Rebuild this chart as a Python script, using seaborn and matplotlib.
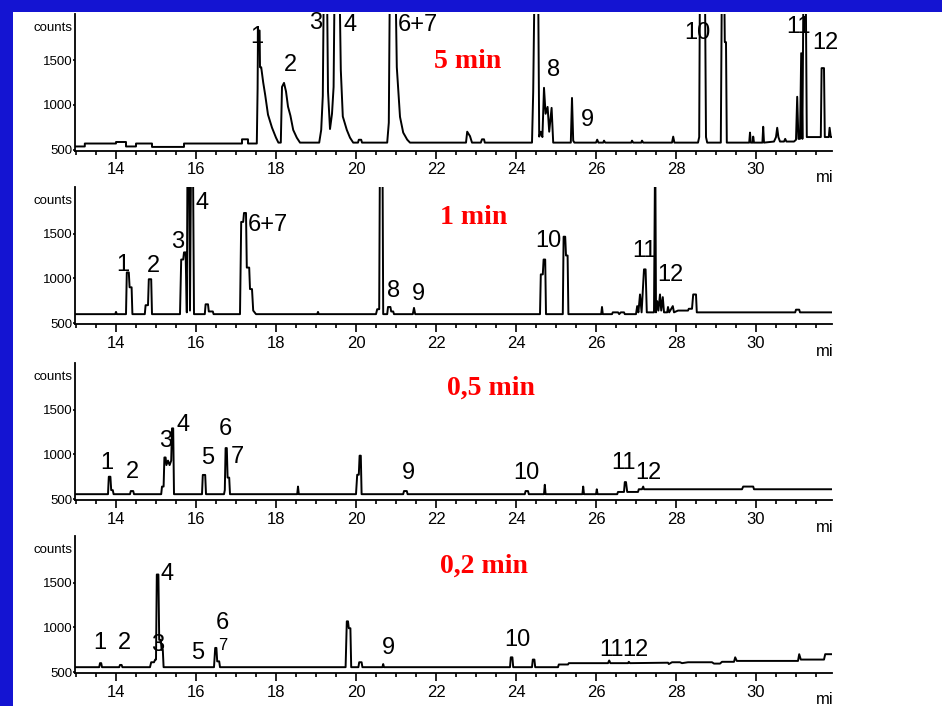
import matplotlib
matplotlib.use("Agg")
import matplotlib.pyplot as plt
from matplotlib.patches import Rectangle
from matplotlib.ticker import MultipleLocator
import pandas as pd
import seaborn as sns

# ---------------- data (retention time [min], counts) ----------------
trace_5min = [
    (12.98, 535), (13.22, 535), (13.22, 568), (14.0, 568), (14.0, 585), (14.25, 585), (14.25, 535),
    (14.5, 535), (14.5, 568), (14.9, 568), (14.9, 530), (15.7, 530), (15.7, 568), (17.15, 568),
    (17.15, 615), (17.3, 615), (17.3, 568), (17.52, 568),
    (17.54, 1180), (17.55, 1830), (17.59, 1830), (17.6, 1420), (17.63, 1420), (17.68, 1250),
    (17.73, 1110), (17.8, 890), (17.9, 745), (18.0, 633), (18.06, 578),
    (18.12, 578), (18.15, 1200), (18.2, 1245), (18.25, 1150), (18.3, 980), (18.36, 880),
    (18.43, 720), (18.52, 633), (18.6, 578), (19.08, 578),
    (19.13, 720), (19.17, 1100), (19.2, 2600), (19.27, 2600), (19.3, 1150), (19.35, 730),
    (19.4, 900), (19.44, 1200), (19.47, 2600), (19.58, 2600), (19.62, 1390), (19.67, 870),
    (19.77, 720), (19.85, 633), (19.93, 578),
    (20.05, 578), (20.07, 610), (20.13, 610), (20.15, 578),
    (20.78, 578), (20.82, 800), (20.85, 2600), (20.98, 2600), (21.02, 1420), (21.1, 866),
    (21.18, 690), (21.28, 611), (21.35, 578),
    (22.75, 578), (22.78, 700), (22.85, 650), (22.9, 578),
    (23.12, 578), (23.15, 615), (23.2, 615), (23.22, 578),
    (24.4, 578), (24.43, 1144), (24.47, 2600), (24.55, 2600), (24.58, 645), (24.62, 700), (24.66, 640),
    (24.7, 1190), (24.74, 900), (24.79, 977), (24.83, 700), (24.89, 966), (24.93, 578),
    (25.37, 578), (25.4, 1077), (25.43, 600), (25.46, 578),
    (26.0, 578), (26.03, 611), (26.06, 578), (26.18, 578), (26.2, 600), (26.23, 578),
    (26.88, 578), (26.9, 600), (26.93, 578), (27.13, 578), (27.15, 600), (27.18, 578),
    (27.9, 578), (27.93, 645), (27.96, 578),
    (28.55, 578), (28.58, 640), (28.6, 2600), (28.72, 2600), (28.75, 640), (28.78, 578),
    (29.12, 578), (29.15, 2600), (29.2, 2600), (29.22, 1700), (29.25, 1700), (29.27, 578),
    (29.83, 578), (29.85, 690), (29.87, 578), (29.92, 578), (29.93, 645), (29.95, 578),
    (30.16, 578), (30.18, 755), (30.2, 578), (30.45, 590), (30.5, 640), (30.53, 744), (30.56, 640),
    (30.6, 590), (30.7, 590), (30.73, 620), (30.76, 590),
    (30.95, 590), (31.0, 610), (31.03, 1090), (31.06, 620), (31.1, 620), (31.13, 1577), (31.16, 620),
    (31.19, 2600), (31.24, 2600), (31.27, 640), (31.62, 640), (31.64, 1410), (31.7, 1410),
    (31.72, 640), (31.82, 640), (31.84, 744), (31.87, 640), (31.9, 640),
]

trace_1min = [
    (12.98, 600), (13.98, 600), (14.0, 625), (14.02, 600),
    (14.25, 600), (14.27, 1066), (14.32, 1066), (14.34, 900), (14.39, 900), (14.41, 600),
    (14.72, 600), (14.74, 700), (14.8, 700), (14.82, 990), (14.88, 990), (14.9, 600),
    (15.6, 600), (15.63, 1210), (15.68, 1210), (15.7, 1290), (15.74, 1290), (15.77, 620),
    (15.79, 2600), (15.82, 2600), (15.85, 640), (15.88, 2600), (15.92, 2600), (15.95, 600),
    (16.22, 600), (16.24, 710), (16.3, 710), (16.32, 630), (16.42, 630), (16.44, 600),
    (17.1, 600), (17.13, 1630), (17.18, 1630), (17.2, 1730), (17.25, 1730), (17.27, 1120),
    (17.33, 1120), (17.35, 880), (17.4, 880), (17.43, 640), (17.5, 600),
    (19.03, 600), (19.05, 625), (19.07, 600),
    (20.5, 600), (20.53, 655), (20.58, 655), (20.6, 2600), (20.66, 2600), (20.68, 600),
    (20.78, 600), (20.8, 680), (20.86, 680), (20.88, 630), (20.93, 630), (20.95, 600),
    (21.42, 600), (21.45, 670), (21.48, 600),
    (24.6, 600), (24.62, 1044), (24.67, 1044), (24.69, 1210), (24.73, 1210), (24.75, 600),
    (25.17, 600), (25.19, 1465), (25.23, 1465), (25.25, 1255), (25.29, 1255), (25.31, 600),
    (26.13, 600), (26.15, 680), (26.17, 600),
    (26.4, 600), (26.42, 620), (26.55, 620), (26.58, 600), (26.62, 620), (26.7, 620), (26.72, 600),
    (27.0, 600), (27.03, 690), (27.06, 620), (27.1, 820), (27.14, 620), (27.2, 1100), (27.24, 1100),
    (27.27, 620), (27.45, 620), (27.48, 2600), (27.5, 620),
    (27.53, 745), (27.56, 640), (27.6, 820), (27.63, 640), (27.67, 790), (27.7, 620), (27.78, 620),
    (27.8, 680), (27.83, 620), (27.92, 690), (27.95, 620), (28.05, 640), (28.3, 640), (28.32, 660),
    (28.4, 660), (28.43, 820), (28.5, 820), (28.52, 620),
    (30.98, 620), (31.0, 650), (31.08, 650), (31.1, 620), (31.9, 620),
]

trace_05min = [
    (12.98, 555), (13.8, 555), (13.82, 750), (13.86, 750), (13.88, 600), (13.92, 600), (13.94, 555),
    (14.35, 555), (14.37, 590), (14.43, 590), (14.45, 555),
    (15.13, 555), (15.15, 640), (15.19, 640), (15.21, 965), (15.24, 965), (15.26, 880), (15.3, 930),
    (15.34, 880), (15.38, 930), (15.4, 1290), (15.43, 1290), (15.45, 555),
    (16.15, 555), (16.17, 770), (16.23, 770), (16.25, 555),
    (16.7, 555), (16.72, 600), (16.74, 1070), (16.77, 1070), (16.79, 740), (16.83, 740), (16.85, 555),
    (18.53, 555), (18.55, 640), (18.57, 555),
    (20.0, 555), (20.03, 772), (20.07, 772), (20.09, 985), (20.12, 985), (20.14, 555),
    (21.18, 555), (21.2, 590), (21.27, 590), (21.29, 555),
    (24.22, 555), (24.24, 590), (24.3, 590), (24.32, 555),
    (24.7, 555), (24.72, 660), (24.74, 555),
    (25.66, 555), (25.68, 640), (25.7, 555),
    (26.0, 555), (26.02, 610), (26.04, 555),
    (26.53, 555), (26.55, 580), (26.7, 580), (26.72, 690), (26.75, 690), (26.78, 580), (27.05, 580),
    (27.07, 610), (27.15, 610), (27.18, 640), (27.2, 610),
    (29.65, 610), (29.68, 640), (29.93, 640), (29.95, 610), (31.9, 610),
]

trace_02min = [
    (12.98, 555), (13.58, 555), (13.6, 600), (13.63, 600), (13.65, 555),
    (14.08, 555), (14.1, 580), (14.14, 580), (14.16, 555),
    (14.85, 555), (14.88, 610), (14.95, 610), (14.98, 640), (15.0, 640), (15.02, 1590), (15.06, 1590),
    (15.08, 860), (15.12, 860), (15.14, 750), (15.17, 750), (15.19, 555),
    (16.45, 555), (16.48, 770), (16.51, 770), (16.53, 620), (16.58, 620), (16.6, 555),
    (19.74, 555), (19.77, 1067), (19.8, 1067), (19.82, 990), (19.86, 990), (19.88, 555),
    (20.06, 555), (20.08, 610), (20.14, 610), (20.16, 555),
    (20.66, 555), (20.68, 590), (20.7, 555),
    (23.85, 555), (23.87, 665), (23.91, 665), (23.93, 555),
    (24.4, 555), (24.42, 640), (24.46, 640), (24.48, 555),
    (25.05, 555), (25.07, 585), (25.3, 585), (25.32, 600),
    (26.3, 600), (26.33, 630), (26.36, 600), (26.8, 600), (26.82, 615), (26.85, 600),
    (27.8, 605), (27.82, 590), (27.9, 610), (28.1, 610), (28.15, 600), (28.3, 610), (28.9, 610),
    (28.95, 595), (29.1, 595), (29.15, 615), (29.45, 615), (29.48, 665), (29.52, 625),
    (31.05, 625), (31.08, 700), (31.12, 640), (31.7, 640), (31.73, 700), (31.9, 700),
]

# peak labels: text, retention time, counts
labels_5min = ["1", "2", "3", "4", "6+7", "8", "9", "10", "11", "12"]
lab_t_5min = [17.53, 18.35, 19.0, 19.85, 21.55, 24.95, 25.78, 28.53, 31.05, 31.73]
lab_c_5min = [1754, 1443, 1910, 1890, 1890, 1390, 833, 1800, 1865, 1690]

labels_1min = ["1", "2", "3", "4", "6+7", "8", "9", "10", "11", "12"]
lab_t_1min = [14.18, 14.93, 15.55, 16.15, 17.8, 20.93, 21.55, 24.8, 27.22, 27.85]
lab_c_1min = [1150, 1133, 1410, 1843, 1600, 855, 822, 1420, 1310, 1033]

labels_05min = ["1", "2", "3", "4", "5", "6", "7", "9", "10", "11", "12"]
lab_t_05min = [13.78, 14.4, 15.23, 15.68, 16.3, 16.73, 17.03, 21.3, 24.25, 26.68, 27.3]
lab_c_05min = [900, 800, 1150, 1330, 955, 1280, 965, 790, 790, 900, 790]

labels_02min = ["1", "2", "3", "4", "5", "6", "7", "9", "10", "11", "12"]
lab_t_02min = [13.6, 14.2, 15.03, 15.28, 16.03, 16.65, 16.66, 20.8, 24.03, 26.38, 26.98]
lab_c_02min = [827, 827, 805, 1600, 718, 1050, 800, 773, 860, 748, 748]

panel_titles = ["5 min", "1 min", "0,5 min", "0,2 min"]

x_ticks = [14, 16, 18, 20, 22, 24, 26, 28, 30]
y_ticks = [500, 1000, 1500]

# ---------------- figure ----------------
sns.set_theme(style="ticks")
plt.rcParams["font.family"] = ["Liberation Sans", "DejaVu Sans"]

W, H = 942, 706
fig = plt.figure(figsize=(W / 100, H / 100), dpi=100)
fig.patch.set_facecolor("#1414D2")
fig.patches.append(Rectangle((13 / W, 0), 1, 1 - 12 / H, transform=fig.transFigure,
                             facecolor="white", edgecolor="none", zorder=-10))

panels = [
    (trace_5min, labels_5min, lab_t_5min, lab_c_5min),
    (trace_1min, labels_1min, lab_t_1min, lab_c_1min),
    (trace_05min, labels_05min, lab_t_05min, lab_c_05min),
    (trace_02min, labels_02min, lab_t_02min, lab_c_02min),
]
spine_px = [150.5, 324, 500, 673]
title_px = [(468, 62), (474, 218), (491, 388), (484, 566)]
ax_h = 137 / H
left = 75 / W
width = (832 - 75) / W

for i, (trace, labs, lt, lc) in enumerate(panels):
    ax = fig.add_axes([left, 1 - spine_px[i] / H, width, ax_h])
    ax.set_facecolor("none")
    df = pd.DataFrame(trace, columns=["t", "c"])
    sns.lineplot(data=df, x="t", y="c", ax=ax, sort=False, estimator=None,
                 color="black", linewidth=1.4)
    ax.set_xlim(12.975, 31.9)
    ax.set_ylim(490, 2020)
    ax.set_xlabel("")
    ax.set_ylabel("")
    for s in ["top", "right"]:
        ax.spines[s].set_visible(False)
    for s in ["left", "bottom"]:
        ax.spines[s].set_linewidth(1.3)
        ax.spines[s].set_color("black")
    ax.set_xticks(x_ticks)
    ax.set_xticklabels([str(v) for v in x_ticks])
    ax.xaxis.set_minor_locator(MultipleLocator(0.5))
    ax.set_yticks(y_ticks)
    ax.set_yticklabels([str(v) for v in y_ticks])
    ax.tick_params(axis="x", which="major", length=5.5, width=1.2, labelsize=12, pad=3,
                   color="black", labelcolor="black")
    ax.tick_params(axis="x", which="minor", length=3, width=1.2, color="black")
    ax.tick_params(axis="y", which="major", length=1.5, width=1.2, labelsize=9.5, pad=0.5,
                   color="black", labelcolor="black")
    ax.annotate("counts", xy=(0, 1860), xycoords=("axes fraction", "data"),
                xytext=(-3, 0), textcoords="offset pixels", ha="right", va="center",
                fontsize=9.5, color="black")
    ax.annotate("mi", xy=(31.72, 0), xycoords=("data", "axes fraction"),
                xytext=(0, -27), textcoords="offset pixels", ha="center", va="center",
                fontsize=12, color="black")
    for txt, tt, cc in zip(labs, lt, lc):
        fs = 12 if (i == 3 and txt == "7") else 17
        ax.text(tt, cc, txt, ha="center", va="center", fontsize=fs, color="black")
    px, py = title_px[i]
    fig.text(px / W, 1 - py / H, panel_titles[i], ha="center", va="center",
             fontsize=20, fontweight="bold", color="#FF0000",
             family=["Liberation Serif", "DejaVu Serif"])

fig.savefig("out.png", dpi=100, facecolor=fig.get_facecolor())
